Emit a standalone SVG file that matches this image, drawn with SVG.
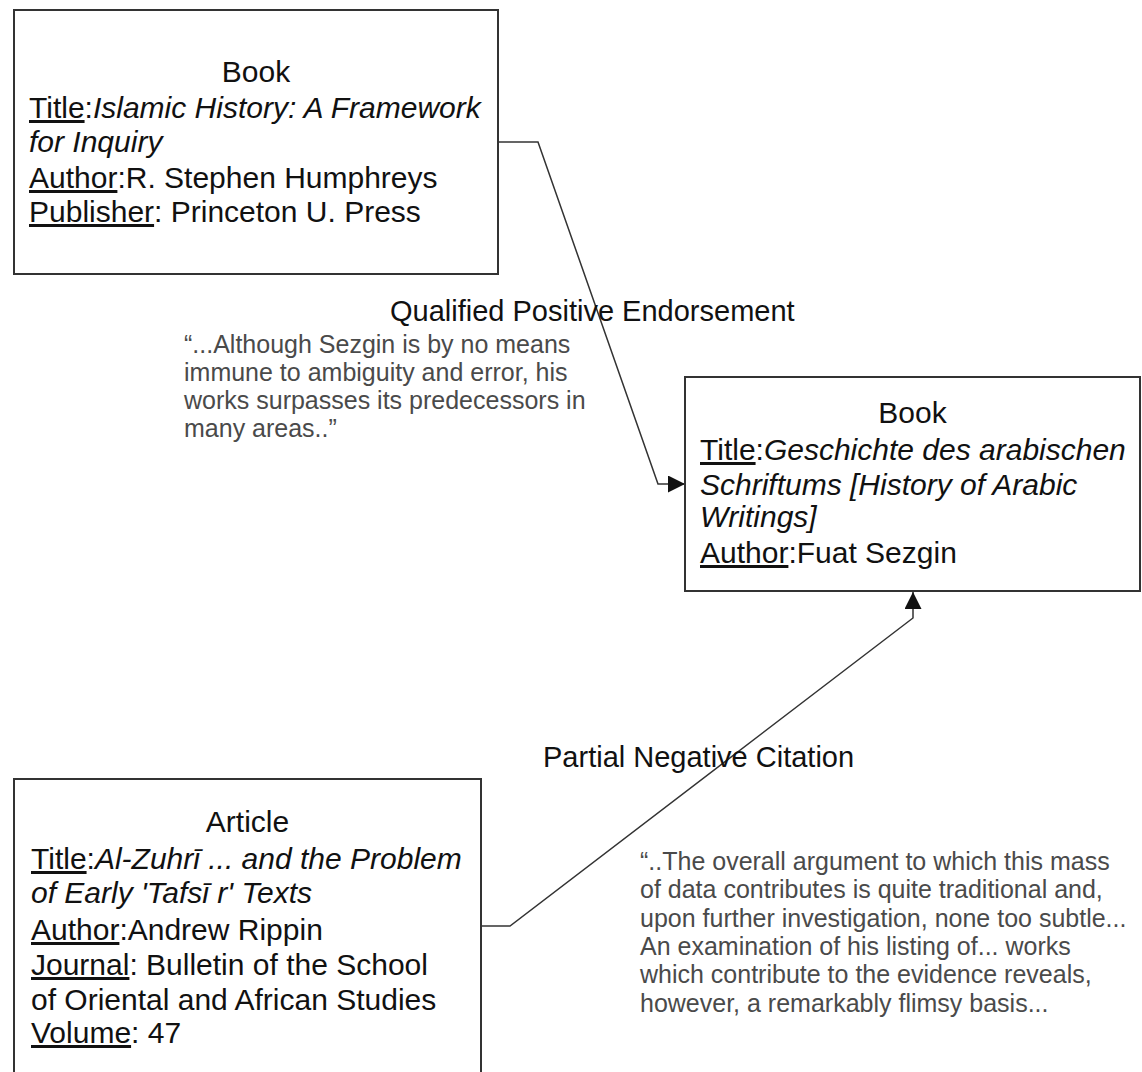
<svg xmlns="http://www.w3.org/2000/svg" width="1142" height="1072" viewBox="0 0 1142 1072">
<style>
text{font-family:"Liberation Sans",Arial,sans-serif;fill:#111}
.box{fill:#fff;stroke:#333;stroke-width:2}
.t{font-size:29px}
.b{font-size:30px}
.c{text-anchor:middle}
.u{text-decoration:underline}
.i{font-style:italic}
.q{font-size:25px;fill:#4a4a4a}
.conn{fill:none;stroke:#333;stroke-width:1.5}
</style>
<defs>
<marker id="arr" viewBox="0 0 10 10" refX="10" refY="5" markerUnits="userSpaceOnUse" markerWidth="26" markerHeight="17" orient="auto">
<path d="M0,0 L10,5 L0,10 z" fill="#111"/>
</marker>
</defs>
<rect width="1142" height="1072" fill="#fff"/>
<g id="connectors">
<path class="conn" d="M498,142 H538 L658,484 H685" marker-end="url(#arr)"/>
<path class="conn" d="M482,926 H510 L913,618 V592" marker-end="url(#arr)"/>
</g>
<g id="book1">
<rect class="box" x="14" y="10" width="484" height="264"/>
<text class="b c" x="256" y="82">Book</text>
<text class="b" x="29" y="118"><tspan class="u">Title</tspan>:<tspan class="i">Islamic History: A Framework</tspan></text>
<text class="b i" x="29" y="152">for Inquiry</text>
<text class="b" x="29" y="188"><tspan class="u">Author</tspan>:R. Stephen Humphreys</text>
<text class="b" x="29" y="222"><tspan class="u">Publisher</tspan>: Princeton U. Press</text>
</g>
<g id="book2">
<rect class="box" x="685" y="377" width="455" height="214"/>
<text class="b c" x="912.5" y="423">Book</text>
<text class="b" x="700" y="460"><tspan class="u">Title</tspan>:<tspan class="i">Geschichte des arabischen</tspan></text>
<text class="b i" x="700" y="495">Schriftums [History of Arabic</text>
<text class="b i" x="700" y="527">Writings]</text>
<text class="b" x="700" y="563"><tspan class="u">Author</tspan>:Fuat Sezgin</text>
</g>
<g id="article">
<rect class="box" x="14" y="779" width="467" height="320"/>
<text class="b c" x="247.5" y="832">Article</text>
<text class="b" x="31" y="869"><tspan class="u">Title</tspan>:<tspan class="i">Al-Zuhrī ... and the Problem</tspan></text>
<text class="b i" x="31" y="903">of Early 'Tafsī r' Texts</text>
<text class="b" x="31" y="940"><tspan class="u">Author</tspan>:Andrew Rippin</text>
<text class="b" x="31" y="975"><tspan class="u">Journal</tspan>: Bulletin of the School</text>
<text class="b" x="31" y="1010">of Oriental and African Studies</text>
<text class="b" x="31" y="1043"><tspan class="u">Volume</tspan>: 47</text>
</g>
<g id="label1">
<text class="t" x="390" y="321">Qualified Positive Endorsement</text>
<text class="q" x="184" y="353">“...Although Sezgin is by no means</text>
<text class="q" x="184" y="381">immune to ambiguity and error, his</text>
<text class="q" x="184" y="409">works surpasses its predecessors in</text>
<text class="q" x="184" y="437">many areas..”</text>
</g>
<g id="label2">
<text class="t" x="543" y="767">Partial Negative Citation</text>
<text class="q" x="640" y="870">“..The overall argument to which this mass</text>
<text class="q" x="640" y="898">of data contributes is quite traditional and,</text>
<text class="q" x="640" y="927">upon further investigation, none too subtle...</text>
<text class="q" x="640" y="955">An examination of his listing of... works</text>
<text class="q" x="640" y="983">which contribute to the evidence reveals,</text>
<text class="q" x="640" y="1012">however, a remarkably flimsy basis...</text>
</g>
</svg>
